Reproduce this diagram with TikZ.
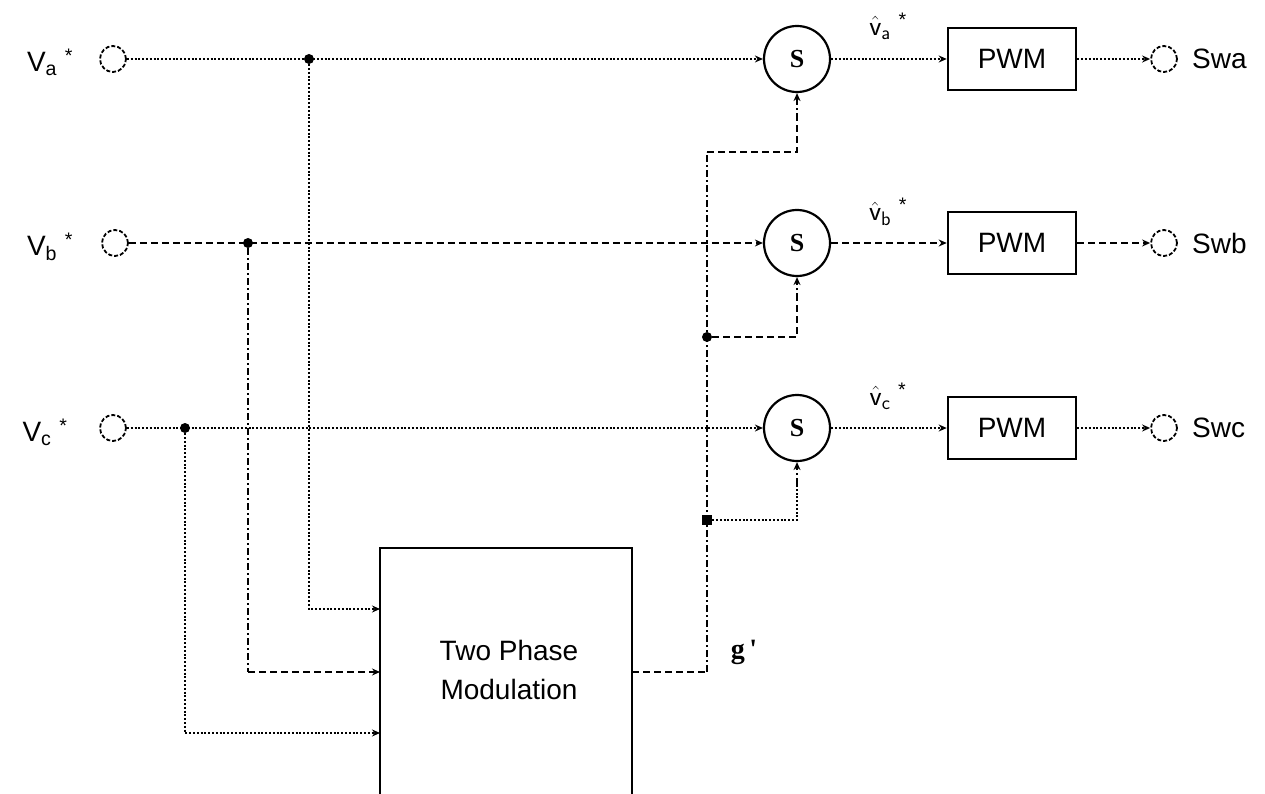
\documentclass[tikz,border=0pt]{standalone}
\usepackage{fontspec}
\setmainfont{Liberation Sans}
\newfontfamily\sfnt{Liberation Serif}
\usetikzlibrary{arrows.meta,positioning}
\tikzset{
  sum/.style={circle, draw, line width=2.2pt, minimum size=66pt, inner sep=0pt,
              font=\fontsize{26}{30}\selectfont\sfnt\bfseries},
  blk/.style={rectangle, draw, line width=2.6pt, minimum width=128pt, minimum height=62pt},
  term/.style={circle, draw, line width=1.8pt, dash pattern=on 4pt off 2pt,
               minimum size=26pt, inner sep=0pt},
  dt/.style={line width=2pt, dash pattern=on 2pt off 1.8pt},
  ds/.style={line width=2pt, dash pattern=on 7pt off 4pt},
  dd/.style={line width=2pt, dash pattern=on 7pt off 3pt on 2pt off 3pt},
  arr/.style={-{Stealth[length=8pt,width=7pt]}},
  jdot/.style={circle, fill, inner sep=0pt, minimum size=10pt},
  jsq/.style={rectangle, fill, inner sep=0pt, minimum size=10pt},
  lbl/.style={inner sep=0pt}
}

\begin{document}
\begin{tikzpicture}[x=1pt,y=-1pt,font=\fontsize{28}{33}\selectfont]
\useasboundingbox (0,0) rectangle (1265,794);
% inputs
\node[term] (inA) at (113,59) {};
\node[term] (inB) at (115,243) {};
\node[term] (inC) at (113,428) {};
\node[lbl] (labA) at (50,62) {V\textsubscript{a} \textsuperscript{*}};
\node[lbl] (labB) at (50,247) {V\textsubscript{b} \textsuperscript{*}};
\node[lbl] (labC) at (45,432) {V\textsubscript{c} \textsuperscript{*}};
% summing points and modulators
\node[sum] (SA) at (797,59) {S};
\node[sum] (SB) at (797,243) {S};
\node[sum] (SC) at (797,428) {S};
\node[blk] (PA) at (1012,59) {PWM};
\node[blk] (PB) at (1012,243) {PWM};
\node[blk] (PC) at (1012,428) {PWM};
\node[term] (outA) at (1164,59) {};
\node[term] (outB) at (1164,243) {};
\node[term] (outC) at (1164,428) {};
\node[lbl, anchor=west] (swA) at (1192,59) {Swa};
\node[lbl, anchor=west] (swB) at (1192,243) {Swb};
\node[lbl, anchor=west] (swC) at (1192,428) {Swc};
\node[lbl] (vA) at (888,26) {$\hat{\mathsf{v}}_{\mathsf{a}}$\ \textsuperscript{*}};
\node[lbl] (vB) at (888,212) {$\hat{\mathsf{v}}_{\mathsf{b}}$\ \textsuperscript{*}};
\node[lbl] (vC) at (888,396) {$\hat{\mathsf{v}}_{\mathsf{c}}$\ \textsuperscript{*}};
% two phase modulation block
\node[rectangle, draw, line width=2.8pt, minimum width=252pt, minimum height=270pt]
  (tpm) at (506,683) {};
\node[align=center, font=\fontsize{28}{39}\selectfont] (tpmtxt) at (509,670) {Two Phase\\Modulation};
\coordinate (tA) at (380,609);
\coordinate (tB) at (380,672);
\coordinate (tC) at (380,733);
\coordinate (tOut) at (632,672);
% junctions
\node[jdot] (jA) at (309,59) {};
\node[jdot] (jB) at (248,243) {};
\node[jdot] (jC) at (185,428) {};
\coordinate (cB) at (248,672);
\coordinate (gk) at (707,672);
\coordinate (gtop) at (707,152);
\node[jdot] (jS2) at (707,337) {};
\node[jsq] (jS3) at (707,520) {};
\coordinate (sA) at (797,120);
\coordinate (sB) at (797,300);
\coordinate (sC) at (797,485);
\node[lbl] (gl) at (744,652) {\sfnt\bfseries g\,\textquotesingle};
% signal rows
\draw[dt,arr] (inA) -- (SA);
\draw[ds,arr] (inB) -- (SB);
\draw[dt,arr] (inC) -- (SC);
\draw[dt,arr] (SA) -- (PA);
\draw[ds,arr] (SB) -- (PB);
\draw[dt,arr] (SC) -- (PC);
\draw[dt,arr] (PA) -- (outA);
\draw[ds,arr] (PB) -- (outB);
\draw[dt,arr] (PC) -- (outC);
% feeds into the modulator
\draw[dt,arr] (jA) |- (tA);
\draw[dd] (jB) -- (cB);
\draw[ds,arr] (cB) -- (tB);
\draw[dt,arr] (jC) |- (tC);
% offset signal back to the summers
\draw[ds] (tOut) -- (gk);
\draw[dd] (gk) -- (gtop);
\draw[ds] (gtop) -| (sA);
\draw[dd,arr] (sA) -- (SA.south);
\draw[ds] (jS2) -| (sB);
\draw[dd,arr] (sB) -- (SB.south);
\draw[dt] (jS3) -| (sC);
\draw[dd,arr] (sC) -- (SC.south);
\end{tikzpicture}
\end{document}
